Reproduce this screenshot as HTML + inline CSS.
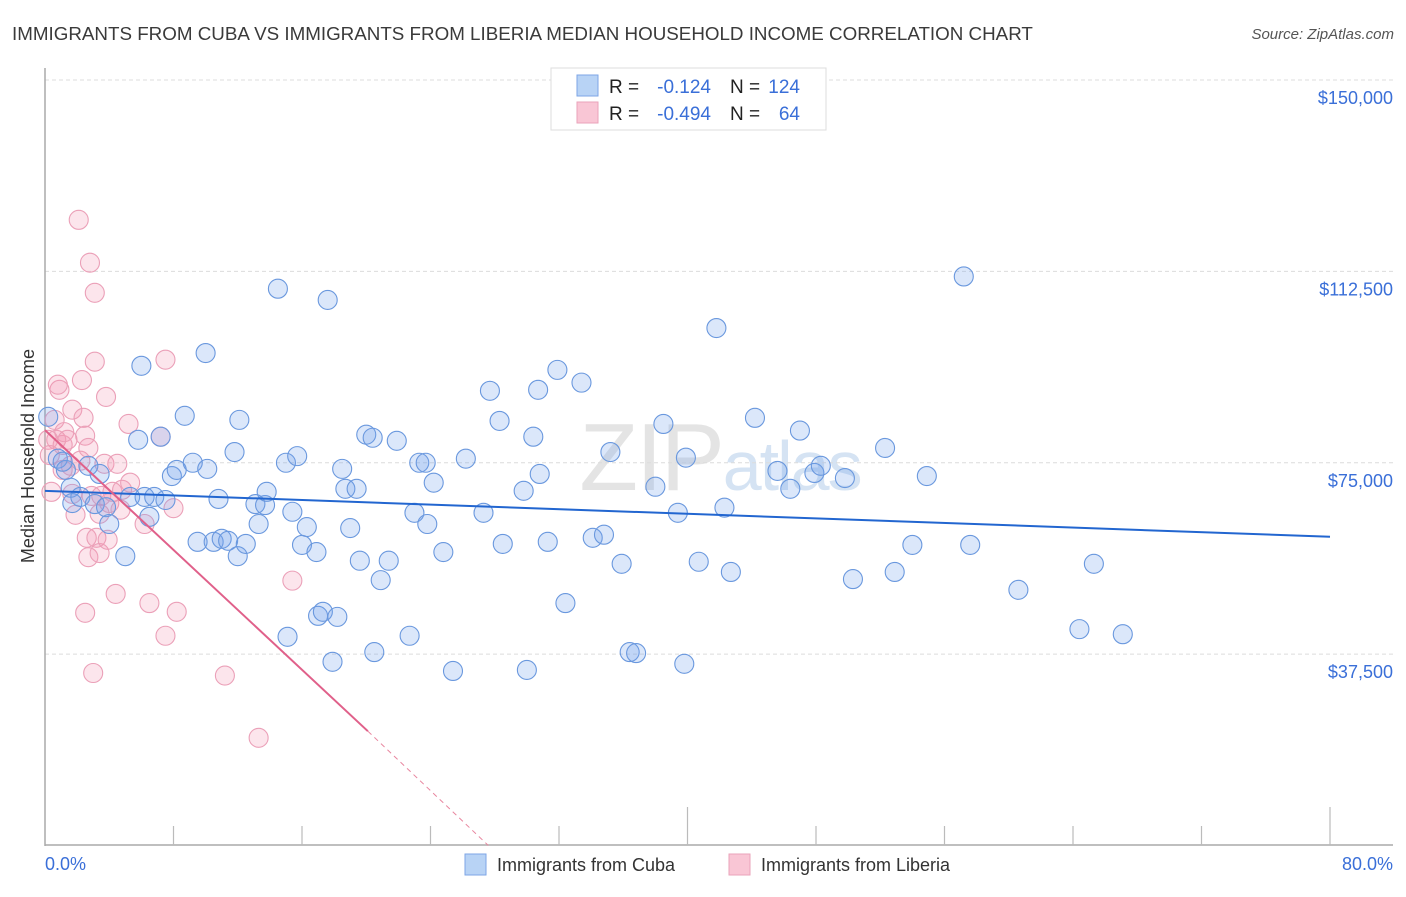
<!DOCTYPE html>
<html><head><meta charset="utf-8"><style>
body{margin:0;background:#fff;font-family:"Liberation Sans",sans-serif;}
svg text{font-family:"Liberation Sans",sans-serif;}
</style></head><body>
<svg id="chart" width="1406" height="892" viewBox="0 0 1406 892" xmlns="http://www.w3.org/2000/svg">
<text x="12" y="40" font-size="18.8" fill="#3a3a3a">IMMIGRANTS FROM CUBA VS IMMIGRANTS FROM LIBERIA MEDIAN HOUSEHOLD INCOME CORRELATION CHART</text>
<text x="1394" y="39" font-size="15" fill="#555" text-anchor="end" font-style="italic">Source: ZipAtlas.com</text>
<text x="720" y="490" font-size="96" fill="#e4e4e4" text-anchor="middle" font-family="Liberation Serif" letter-spacing="-2">ZIP<tspan font-family="Liberation Sans" font-size="70" fill="#d5e3f3">atlas</tspan></text>
<g id="grid"></g>
<g id="axes"></g>
<g id="pts"></g>
<g id="trends"></g>
<text transform="translate(34,456) rotate(-90)" font-size="18" fill="#333" text-anchor="middle">Median Household Income</text>
<text x="45" y="870" font-size="18" fill="#3a6fd8">0.0%</text>
<text x="1393" y="870" font-size="18" fill="#3a6fd8" text-anchor="end">80.0%</text>
<g>
<rect x="551" y="68" width="275" height="62" fill="#fff" stroke="#ddd"/>
<rect x="577" y="75" width="21" height="21" fill="#b8d3f5" stroke="#7ea6e6"/>
<rect x="577" y="102" width="21" height="21" fill="#f9c6d5" stroke="#eaa3ba"/>
<text x="609" y="93" font-size="19" fill="#222">R = </text><text x="711" y="93" font-size="19" fill="#3a6fd8" text-anchor="end">-0.124</text>
<text x="730" y="93" font-size="19" fill="#222">N = </text><text x="800" y="93" font-size="19" fill="#3a6fd8" text-anchor="end">124</text>
<text x="609" y="120" font-size="19" fill="#222">R = </text><text x="711" y="120" font-size="19" fill="#3a6fd8" text-anchor="end">-0.494</text>
<text x="730" y="120" font-size="19" fill="#222">N = </text><text x="800" y="120" font-size="19" fill="#3a6fd8" text-anchor="end">64</text>
</g>
<g>
<rect x="465" y="854" width="21" height="21" fill="#b8d3f5" stroke="#7ea6e6"/>
<text x="497" y="871" font-size="18" fill="#333">Immigrants from Cuba</text>
<rect x="729" y="854" width="21" height="21" fill="#f9c6d5" stroke="#eaa3ba"/>
<text x="761" y="871" font-size="18" fill="#333">Immigrants from Liberia</text>
</g>
</svg>
<script>
const yTicks=[37500,75000,112500,150000];
const yTickLabels=["$37,500","$75,000","$112,500","$150,000"];
const xTicks=[8,16,24,32,40,48,56,64,72,80];
const xMajor=[40,80];
const cubaX=[0.8,1.3,1.1,1.6,1.7,2.2,2.7,3.1,3.4,3.8,4.0,5.0,5.3,5.8,6.0,6.2,6.5,6.8,7.2,7.5,7.9,8.2,8.7,9.2,9.5,10.0,10.1,10.5,10.8,11.0,11.4,11.8,12.0,12.1,12.5,13.1,13.3,13.7,13.8,14.5,15.0,15.1,15.4,15.7,16.0,16.3,16.9,17.0,17.3,17.6,17.9,18.2,18.5,18.7,19.0,19.4,19.6,20.0,20.4,20.5,20.9,21.4,21.9,22.7,23.0,23.3,23.7,23.8,24.2,24.8,25.4,26.2,27.3,27.7,28.3,28.5,29.8,30.0,30.4,30.7,30.8,31.3,31.9,32.4,33.4,34.1,34.8,35.2,35.9,36.4,36.8,38.0,38.5,39.4,39.8,39.9,40.7,41.8,42.3,42.7,44.2,45.6,46.4,47.0,47.9,48.3,49.8,50.3,52.3,52.9,54.0,54.9,57.2,57.6,60.6,64.4,65.3,67.1,0.2];
const cubaY=[75.8,73.6,75.2,70.1,67.1,68.3,74.4,66.9,72.8,66.3,63.0,56.7,68.3,79.5,94.0,68.3,64.4,68.3,80.1,67.7,72.4,73.6,84.2,75.0,59.5,96.5,73.8,59.5,67.9,60.1,59.7,77.1,56.7,83.4,59.1,66.9,63.0,66.7,69.3,109.1,75.0,40.9,65.4,76.3,58.9,62.4,57.5,45.0,45.8,106.9,36.0,44.8,73.8,69.9,62.2,69.9,55.8,80.5,79.9,37.9,52.0,55.8,79.3,41.1,65.2,75.0,75.0,63.0,71.1,57.5,34.2,75.8,65.2,89.1,83.2,59.1,69.5,34.4,80.1,89.3,72.8,59.5,93.2,47.5,90.7,60.3,60.9,77.1,55.2,37.9,37.7,70.3,82.6,65.2,35.6,76.0,55.6,101.4,66.2,53.6,83.8,73.4,69.9,81.3,73.0,74.4,72.0,52.2,77.9,53.6,58.9,72.4,111.5,58.9,50.1,42.4,55.2,41.4,84.0];
const liberiaX=[0.4,0.6,0.7,0.9,1.1,1.2,1.4,1.6,1.7,1.7,1.9,2.1,2.2,2.3,2.4,2.5,2.6,2.7,2.7,2.8,2.9,3.1,3.1,3.2,3.4,3.4,3.5,3.7,3.8,3.9,4.0,4.2,4.4,4.5,4.7,4.8,5.2,5.3,6.2,6.5,7.2,7.5,7.5,8.0,8.2,11.2,13.3,15.4,2.5,3.0,0.8,1.1,0.2,0.3];
const liberiaY=[69.3,83.4,79.5,89.3,78.5,81.0,79.5,74.4,68.9,85.4,64.8,122.6,75.4,91.2,83.8,80.3,60.3,77.9,56.5,114.2,68.5,94.8,108.3,60.3,57.3,65.0,68.5,74.8,87.9,59.9,67.1,69.3,49.3,74.8,65.8,69.7,82.6,71.1,63.0,47.5,80.1,41.1,95.2,66.1,45.8,33.3,21.1,51.9,45.6,33.8,90.3,73.6,79.5,76.5];
const cubaTrend=[[0,69.5],[80,60.5]];
const liberiaTrendSolid=[[0,81.4],[20.1,22.4]];
const liberiaTrendDash=[[20.1,22.4],[27.6,0]];

const NS="http://www.w3.org/2000/svg";
const X0=45,X1=1330,Y0=845.5,Y150=80;
function sx(v){return X0+(X1-X0)*v/80;}
function sy(v){return Y0-(Y0-Y150)*v/150000;}
function mk(tag,attrs,parent){const e=document.createElementNS(NS,tag);for(const k in attrs)e.setAttribute(k,attrs[k]);parent.appendChild(e);return e;}
const grid=document.getElementById('grid'),axes=document.getElementById('axes'),pts=document.getElementById('pts'),tr=document.getElementById('trends');
yTicks.forEach((t,i)=>{
 const l=mk('line',{x1:X0,x2:1393,y1:sy(t),y2:sy(t),stroke:'#dcdcdc','stroke-dasharray':'4,3'},grid);
 
 
 const tx=mk('text',{x:1393,y:sy(t)+24,'font-size':18,fill:'#3a6fd8','text-anchor':'end'},grid);
 tx.textContent=yTickLabels[i];
 
 
});
const ya=mk('line',{x1:X0,x2:X0,y1:68,y2:846,stroke:'#aaa','stroke-width':1.5},axes);


const xa=mk('line',{x1:X0,x2:1393,y1:845,y2:845,stroke:'#aaa','stroke-width':1.5},axes);


xTicks.forEach(t=>{
 const k=mk('line',{x1:sx(t),x2:sx(t),y1:xMajor.includes(t)?807:826,y2:845,stroke:'#bbb','stroke-width':1.2},axes);
 
 
});
function dots(xs,ys,fill,stroke,name){
 xs.forEach((x,i)=>{
  const c=mk('circle',{cx:sx(x),cy:sy(ys[i]*1000),r:9.5,fill:fill,stroke:stroke,'stroke-width':1.1},pts);
  
  
 });
}
dots(liberiaX,liberiaY,'rgba(242,150,180,0.25)','#eba0b8','liberia-point');
dots(cubaX,cubaY,'rgba(110,160,235,0.25)','#6a98de','cuba-point');
function line(p,stroke,w,dash,name){
 const a={x1:sx(p[0][0]),y1:sy(p[0][1]*1000),x2:sx(p[1][0]),y2:sy(p[1][1]*1000),stroke:stroke,'stroke-width':w};
 if(dash)a['stroke-dasharray']=dash;
 const l=mk('line',a,tr);
 
 
}
line(cubaTrend,'#2266d0',2,null,'cuba-trend-line');
line(liberiaTrendSolid,'#e0608a',2,null,'liberia-trend-line');
line(liberiaTrendDash,'#e8869f',1,'5,4','liberia-trend-extension');
</script>
</body></html>
